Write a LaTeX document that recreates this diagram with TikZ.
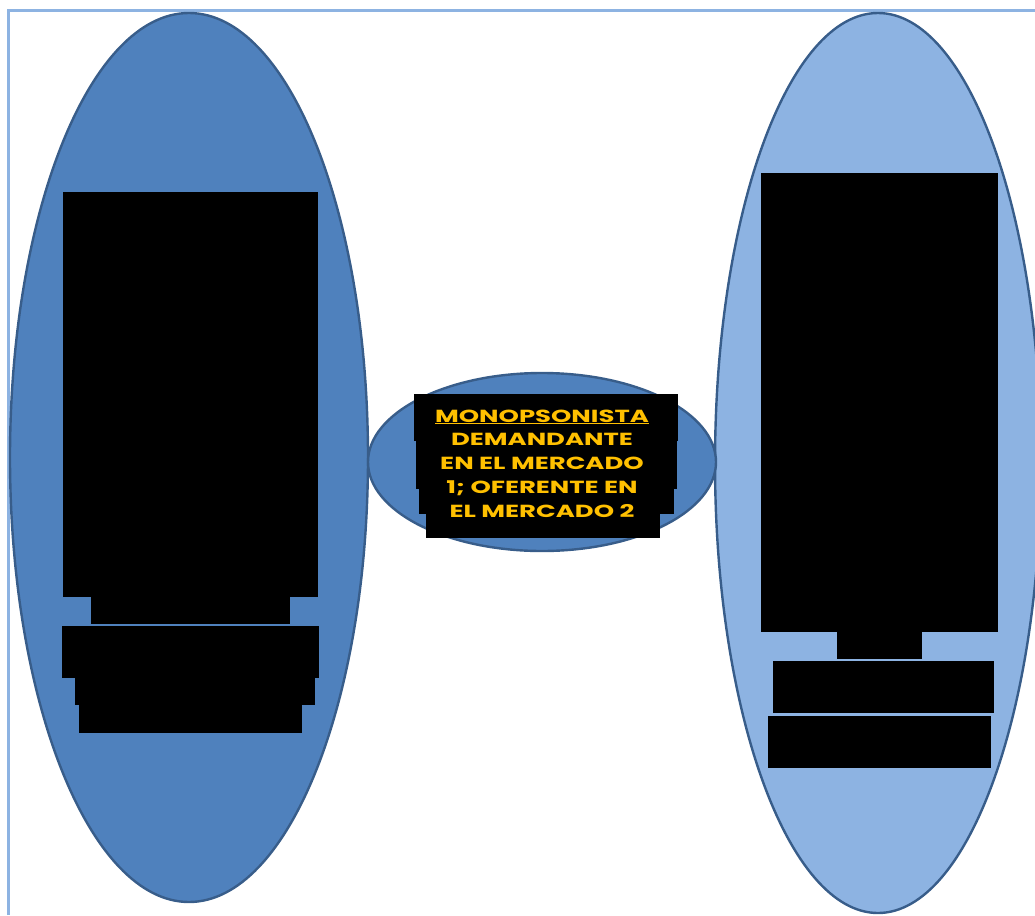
\documentclass[tikz,border=0pt]{standalone}
\usepackage{fontspec}
\newfontfamily\goldfont[FakeStretch=1.48]{Poppins}
\usepackage{tikz}
\usepackage{xcolor}
\usetikzlibrary{positioning}
\definecolor{ovaldark}{RGB}{79,129,189}
\definecolor{ovallight}{RGB}{141,179,226}
\definecolor{ovalline}{RGB}{56,93,138}
\definecolor{frameblue}{RGB}{141,179,226}
\definecolor{textgold}{RGB}{255,192,0}

\begin{document}
\begin{tikzpicture}[x=1pt,y=-1pt,
  oval/.style={draw=ovalline,line width=2.4pt},
  hidebox/.style={fill=black},
  gold/.style={text=textgold,font=\goldfont\fontsize{17.5}{23.8}\selectfont\bfseries,align=center,inner sep=0pt}]
  \useasboundingbox (0,0) rectangle (1035,915);
  % frame
  \draw[frameblue,line width=3pt] (8,915)--(8,11)--(1035,11);
  % ovals
  \filldraw[oval,fill=ovaldark] (189,457.5) ellipse [x radius=179,y radius=444.5];
  \filldraw[oval,fill=ovallight] (878,463) ellipse [x radius=163,y radius=450];
  \filldraw[oval,fill=ovaldark] (542,462) ellipse [x radius=174,y radius=89];
  % left block
  \fill[hidebox] (63,192) rectangle (318,597);
  \fill[hidebox] (91,597) rectangle (290,624);
  \fill[hidebox] (62,626) rectangle (319,678);
  \fill[hidebox] (75,678) rectangle (315,705);
  \fill[hidebox] (79,705) rectangle (302,733);
  % right block
  \fill[hidebox] (761,173) rectangle (998,632);
  \fill[hidebox] (837,632) rectangle (922,659);
  \fill[hidebox] (773,661) rectangle (994,713);
  \fill[hidebox] (768,716) rectangle (991,768);
  % middle block
  \fill[hidebox] (414,394) rectangle (678,441);
  \fill[hidebox] (416,441) rectangle (677,489);
  \fill[hidebox] (419,489) rectangle (674,514);
  \fill[hidebox] (426,514) rectangle (660,538);
  \node[gold] (mono) at (542,463.5) {\underline{MONOPSONISTA}\\DEMANDANTE\\EN EL MERCADO\\1; OFERENTE EN\\EL MERCADO 2};
\end{tikzpicture}
\end{document}
